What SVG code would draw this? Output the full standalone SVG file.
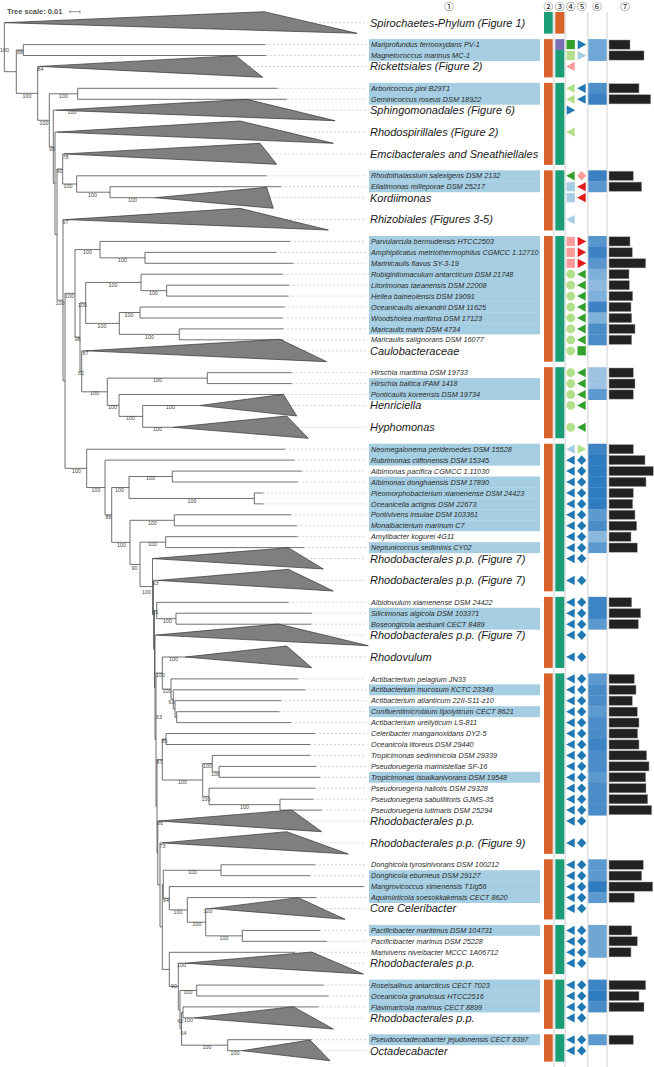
<svg xmlns="http://www.w3.org/2000/svg" width="654" height="1067" viewBox="0 0 654 1067">
<style>
.hl{fill:#a6cee3}
.lf{font-family:"Liberation Sans",Arial,sans-serif;font-style:italic;font-size:7.3px;fill:#2a2a2a}
.cl{font-family:"Liberation Sans",Arial,sans-serif;font-style:italic;font-size:11px;fill:#1a1a1a}
.bs{font-family:"Liberation Sans",Arial,sans-serif;font-size:5.3px;fill:#444;text-anchor:middle}
.br{fill:none;stroke:#4d4d4d;stroke-width:0.8}
.tri{fill:#7f7f7f;stroke:#333;stroke-width:0.7;stroke-linejoin:round}
.dot{fill:none;stroke:#c8c8c8;stroke-width:0.8;stroke-dasharray:2 2}
.bar{fill:#222;stroke:#999;stroke-width:0.5}
.or{fill:#d9622b}.gr{fill:#1b9e77}.pu{fill:#7b6fb8}
.vl{stroke:#d0d0d0;stroke-width:1}
.hd{font-family:"Noto Sans CJK JP","DejaVu Sans",sans-serif;font-size:9.5px;fill:#222;text-anchor:middle}
.ts{font-family:"Liberation Sans",Arial,sans-serif;font-size:7.5px;font-weight:bold;fill:#555}
</style>
<defs>
<path id="tR" d="M-4,-4.6L4.6,0L-4,4.6Z"/>
<path id="tL" d="M4,-4.6L-4.6,0L4,4.6Z"/>
<path id="sq" d="M-4.2,-4.6h8.4v9.2h-8.4z"/>
<circle id="ci" r="4.4"/>
<path id="di" d="M0,-4.8L4.6,0L0,4.8L-4.6,0Z"/>
<g id="bb"><use href="#tL" fill="#1f78b4"/><use href="#di" x="11" fill="#1f78b4"/></g>
<g id="gc"><use href="#ci" fill="#b2df8a"/><use href="#tL" x="11" fill="#33a02c"/></g>
<g id="pr"><use href="#sq" fill="#fb9a99"/><use href="#tR" x="11" fill="#e31a1c"/></g>
</defs>
<rect width="654" height="1067" fill="#fff"/>

<g id="header">
<text class="ts" x="7" y="14.2">Tree scale: 0.01</text>
<path d="M70 11.7H80M70 10.2V13.2M80 10.2V13.2" stroke="#777" stroke-width="0.8" fill="none"/>
<text class="hd" x="449" y="10.4">①</text>
<text class="hd" x="548.3" y="10.4">②</text>
<text class="hd" x="559.8" y="10.4">③</text>
<text class="hd" x="570.7" y="10.4">④</text>
<text class="hd" x="581.7" y="10.4">⑤</text>
<text class="hd" x="597" y="10.4">⑥</text>
<text class="hd" x="625" y="10.4">⑦</text>
</g>

<g id="grid">
<path class="vl" d="M553.9 12V1067M565.1 12V1067M587.9 12V1067M607 12V1067"/>
</g>

<g id="strips">
<rect class="gr" x="544" y="12" width="8.7" height="21.64"/><rect class="or" x="555.3" y="12" width="9" height="21.64"/>
<rect class="or" x="544" y="39.1" width="8.7" height="38.28"/><rect class="pu" x="555.3" y="39.1" width="9" height="10.94"/><rect class="gr" x="555.3" y="50.04" width="9" height="27.34"/>
<rect class="or" x="544" y="82.85" width="8.7" height="82.02"/><rect class="gr" x="555.3" y="82.85" width="9" height="82.02"/>
<rect class="or" x="544" y="170.33" width="8.7" height="60.15"/><rect class="gr" x="555.3" y="170.33" width="9" height="60.15"/>
<rect class="or" x="544" y="235.95" width="8.7" height="125.77"/><rect class="gr" x="555.3" y="235.95" width="9" height="125.77"/>
<rect class="or" x="544" y="367.18" width="8.7" height="71.09"/><rect class="gr" x="555.3" y="367.18" width="9" height="71.09"/>
<rect class="or" x="544" y="443.73" width="8.7" height="147.64"/><rect class="gr" x="555.3" y="443.73" width="9" height="147.64"/>
<rect class="or" x="544" y="596.84" width="8.7" height="71.08"/><rect class="gr" x="555.3" y="596.84" width="9" height="71.08"/>
<rect class="or" x="544" y="673.39" width="8.7" height="180.45"/><rect class="gr" x="555.3" y="673.39" width="9" height="180.45"/>
<rect class="or" x="544" y="859.3" width="8.7" height="60.15"/><rect class="gr" x="555.3" y="859.3" width="9" height="60.15"/>
<rect class="or" x="544" y="924.92" width="8.7" height="49.21"/><rect class="gr" x="555.3" y="924.92" width="9" height="49.21"/>
<rect class="or" x="544" y="979.6" width="8.7" height="49.21"/><rect class="gr" x="555.3" y="979.6" width="9" height="49.21"/>
<rect class="or" x="544" y="1034.28" width="8.7" height="27.34"/><rect class="gr" x="555.3" y="1034.28" width="9" height="27.34"/>
</g>

<g id="connectors">
<path class="dot" d="M311 22.7H366M265 44.57H366M265.7 55.51H366M249 66.44H366M277.7 88.32H366M286.7 99.25H366M291.7 110.19H366M286.4 132.06H366M268.4 153.93H366M266.7 175.8H366M281 186.74H366M270 197.68H366M285.9 219.55H366M290 241.42H366M276 252.36H366M293.3 263.29H366M282.7 274.23H366M289 285.16H366M288.3 296.1H366M284.3 307.04H366M282.7 317.97H366M283.3 328.91H366M283 339.84H366M304 350.78H366M291.7 372.65H366M291.7 383.59H366M283.3 394.52H366M290.2 405.46H366M297.6 427.33H366M285 449.2H366M294.3 460.14H366M301.7 471.08H366M297.7 482.01H366M263.3 492.95H366M263.3 503.88H366M291 514.82H366M296.7 525.76H366M297.7 536.69H366M304 547.63H366M306.2 558.56H366M311.3 580.44H366M288.3 602.31H366M311.7 613.24H366M311 624.18H366M324.4 635.12H366M299.4 656.99H366M297.7 678.86H366M305 689.8H366M281 700.73H366M279.3 711.67H366M291 722.6H366M315 733.54H366M310 744.48H366M310 755.41H366M316 766.35H366M320 777.28H366M315 788.22H366M313.3 799.16H366M321.7 810.09H366M306.9 821.03H366M317.6 842.9H366M315 864.77H366M310 875.71H366M363.3 886.64H366M316 897.58H366M321.7 908.52H366M320 930.39H366M326.7 941.32H366M295 952.26H366M338 963.2H366M323.3 985.07H366M328.3 996H366M318.3 1006.94H366M313.4 1017.88H366M312 1039.75H366M320.7 1050.68H366"/>
<path class="br" d="M4.3 22.7V71.7M16.3 50.05V93.35M23.3 44.6V55.5M37.7 66.4V120.3M49.3 93.8V146.8M77.7 88.3V99.3M53.3 110.2V183.35M55 132.1V234.6M57 169V300.2M62.7 153.9V184M76.7 175.8V192.2M110 186.7V197.7M63 219.6V380.85M65 293.35V468.35M75 249.6V337.1M100 241.4V257.85M145 252.4V263.3M80 302.9V371.3M85.7 282.4V323.4M141 274.2V290.65M166.7 285.2V296.1M119.3 312.5V334.35M140 307V318M179.3 328.9V339.8M81.7 350.8V391.8M107.3 378.15V405.45M207.3 372.7V383.6M119 394.5V416.4M142.7 405.5V427.3M86.7 449.2V487.5M105 460.1V514.9M111.7 487.5V542.35M129 476.55V498.45M172.3 471.1V482M254.3 493V503.9M130 520.3V564.4M174.3 514.8V525.8M140 542.15V586.6M165.7 536.7V547.6M152.5 558.6V614.65M153.5 580.4V648.9M154.5 610.5V687.35M156.7 602.3V618.7M176 613.2V624.2M155 635.1V739.6M156 673.05V806.2M162.3 657V689.1M171 678.9V699.35M173.3 689.8V708.9M175 700.7V717.15M176.7 711.7V722.6M157 759.5V852.9M162.3 739V780M166 733.5V744.5M202.7 763.6V796.4M212.3 755.4V771.85M219 766.4V777.3M209 788.2V804.65M280 799.2V810.1M157.8 821V884.85M160 842.9V926.8M163.3 870.25V898.25M221 864.8V875.7M169.3 886.6V909.9M187.3 897.6V922.2M205.7 908.5V935.85M242.3 930.4V941.3M162.3 884.25V969.4M169.3 952.3V986.45M178.3 963.2V1009.7M180 990.55V1028.8M196.7 985.1V996M181.5 1012.4V1045.2M183 1006.9V1017.9M227.7 1039.7V1050.7"/>
<path class="br" d="M4.3 71.7H16.3M16.3 50.05H23.3M23.3 44.6H265M23.3 55.5H265.7M16.3 93.35H37.7M37.7 66.4H40M37.7 120.3H49.3M49.3 93.8H77.7M77.7 88.3H277.7M77.7 99.3H286.7M49.3 146.8H53.3M53.3 110.2H56M53.3 183.35H55M55 132.1H57M55 234.6H57M57 169H62.7M62.7 153.9H64M62.7 184H76.7M76.7 175.8H266.7M76.7 192.2H110M110 186.7H281M110 197.7H155M57 300.2H63M63 219.6H66M63 380.85H65M65 293.35H75M65 468.35H86.7M75 249.6H100M100 241.4H290M100 257.85H145M145 252.4H276M145 263.3H293.3M75 337.1H80M80 302.9H85.7M85.7 282.4H141M141 274.2H282.7M141 290.65H166.7M166.7 285.2H289M166.7 296.1H288.3M85.7 323.4H119.3M119.3 312.5H140M140 307H284.3M140 318H282.7M119.3 334.35H179.3M179.3 328.9H283.3M179.3 339.8H283M80 371.3H81.7M81.7 350.8H86M81.7 391.8H107.3M107.3 378.15H207.3M207.3 372.7H291.7M207.3 383.6H291.7M107.3 405.45H119M119 394.5H283.3M119 416.4H142.7M142.7 405.5H200M142.7 427.3H173"/>
<path class="br" d="M86.7 449.2H285M86.7 487.5H105M105 460.1H294.3M105 514.9H111.7M111.7 487.5H129M129 476.55H172.3M172.3 471.1H301.7M172.3 482H297.7M129 498.45H254.3M254.3 493H263.3M254.3 503.9H263.3M111.7 542.35H130M130 520.3H174.3M174.3 514.8H291M174.3 525.8H296.7M130 564.4H140M140 542.15H165.7M165.7 536.7H297.7M165.7 547.6H304M140 586.6H152.5M152.5 614.65H153.5M153.5 580.4H158M153.5 648.9H154.5M154.5 610.5H156.7M156.7 602.3H288.3M156.7 618.7H176M176 613.2H311.7M176 624.2H311M154.5 687.35H155M155 635.1H156M155 739.6H156M156 673.05H162.3M162.3 657H185M162.3 689.1H171M171 678.9H297.7M171 699.35H173.3M173.3 689.8H305M173.3 708.9H175M175 700.7H281M175 717.15H176.7M176.7 711.7H279.3M176.7 722.6H291M156 806.2H157M157 759.5H162.3M162.3 739H166M166 733.5H315M166 744.5H310M162.3 780H202.7M202.7 763.6H212.3M212.3 755.4H310M212.3 771.85H219M219 766.4H316M219 777.3H320M202.7 796.4H209M209 788.2H315M209 804.65H280M280 799.2H313.3M280 810.1H321.7"/>
<path class="br" d="M157 852.9H157.8M157.8 821H159M157.8 884.85H160M160 842.9H162M160 926.8H162.3M162.3 884.25H163.3M163.3 870.25H221M221 864.8H315M221 875.7H310M163.3 898.25H169.3M169.3 886.6H363.3M169.3 909.9H187.3M187.3 897.6H316M187.3 922.2H205.7M205.7 908.5H211M205.7 935.85H242.3M242.3 930.4H320M242.3 941.3H326.7M162.3 969.4H169.3M169.3 952.3H295M169.3 986.45H178.3M178.3 963.2H185M178.3 1009.7H180M180 990.55H196.7M196.7 985.1H323.3M196.7 996H328.3M180 1028.8H181.5M181.5 1012.4H183M183 1006.9H318.3M183 1017.9H194M181.5 1045.2H227.7M227.7 1039.7H312M227.7 1050.7H242"/>
</g>

<g id="clades">
<path class="tri" d="M4.5 22.7L264 11.7L357 33.3Z"/>
<path class="tri" d="M40 66.4L235.7 55.7L262.7 77.3Z"/>
<path class="tri" d="M56 110.2L246.7 99.3L335 120.7Z"/>
<path class="tri" d="M57 132.1L240 121L333.3 143.3Z"/>
<path class="tri" d="M64 153.9L260 143.3L276.7 164.3Z"/>
<path class="tri" d="M155 197.7L266.7 187.3L273.3 208.3Z"/>
<path class="tri" d="M66 219.6L240 208.3L328.3 230Z"/>
<path class="tri" d="M86 350.8L280 339.3L326.7 361.7Z"/>
<path class="tri" d="M200 405.5L283.3 394.3L296.7 416Z"/>
<path class="tri" d="M173 427.3L286.7 416L308.3 438.3Z"/>
<path class="tri" d="M152.5 558.6L288.3 547.7L323.3 569Z"/>
<path class="tri" d="M158 580.4L288.3 569.3L333.3 591Z"/>
<path class="tri" d="M156 635.1L278.3 624L368.3 645.7Z"/>
<path class="tri" d="M185 657L286.7 646L311.7 667.7Z"/>
<path class="tri" d="M159 821L291.7 810L321.7 831.7Z"/>
<path class="tri" d="M162 842.9L286.7 831.7L348.3 854Z"/>
<path class="tri" d="M211 908.5L298.3 897.7L345 919.3Z"/>
<path class="tri" d="M185 963.2L311.7 952L363.3 974Z"/>
<path class="tri" d="M194 1017.9L293.3 1006.7L333.3 1029Z"/>
<path class="tri" d="M242 1050.7L310 1040L330 1060.7Z"/>
</g>

<g id="support">
<text class="bs" x="4.5" y="52">100</text><text class="bs" x="20" y="54.3">88</text><text class="bs" x="40.5" y="71">84</text><text class="bs" x="27" y="97.7">100</text><text class="bs" x="44" y="124.7">100</text><text class="bs" x="63.5" y="98">100</text><text class="bs" x="72" y="114">100</text><text class="bs" x="52" y="151">95</text><text class="bs" x="65.5" y="158.7">78</text><text class="bs" x="59.5" y="172.7">90</text>
<text class="bs" x="68" y="188">100</text><text class="bs" x="92.5" y="197">100</text><text class="bs" x="132.5" y="202">100</text><text class="bs" x="65.5" y="223.7">97</text><text class="bs" x="87.5" y="254">100</text><text class="bs" x="122.5" y="262">100</text><text class="bs" x="69.5" y="297.7">100</text><text class="bs" x="60" y="304.7">100</text><text class="bs" x="113" y="287">100</text><text class="bs" x="153.5" y="295">100</text>
<text class="bs" x="82.5" y="307">100</text><text class="bs" x="129" y="317">100</text><text class="bs" x="102" y="327.7">100</text><text class="bs" x="149.5" y="338.7">100</text><text class="bs" x="77.5" y="341">98</text><text class="bs" x="85.5" y="354.7">87</text><text class="bs" x="81" y="375.3">62</text><text class="bs" x="157.5" y="382">100</text><text class="bs" x="94.5" y="395">100</text><text class="bs" x="112.5" y="409">100</text>
<text class="bs" x="170.5" y="409">100</text><text class="bs" x="130.5" y="420">100</text><text class="bs" x="157.5" y="431">100</text><text class="bs" x="76.5" y="472.7">100</text><text class="bs" x="96" y="492">100</text><text class="bs" x="150.5" y="480">100</text><text class="bs" x="119.5" y="492">100</text><text class="bs" x="192" y="502.7">100</text><text class="bs" x="108.5" y="518.7">86</text><text class="bs" x="152.5" y="524.7">100</text>
<text class="bs" x="121.5" y="547">100</text><text class="bs" x="152.5" y="546">100</text><text class="bs" x="134.5" y="569.7">90</text><text class="bs" x="146.5" y="593.7">100</text><text class="bs" x="155.5" y="584.7">63</text><text class="bs" x="155.5" y="614.3">61</text><text class="bs" x="167.5" y="623">100</text><text class="bs" x="173.5" y="661.3">100</text><text class="bs" x="160.5" y="677">100</text><text class="bs" x="167" y="692.7">100</text>
<text class="bs" x="171.5" y="703.7">63</text><text class="bs" x="159" y="719.3">63</text><text class="bs" x="164.5" y="742.7">85</text><text class="bs" x="159.5" y="763.7">87</text><text class="bs" x="182.5" y="783.7">100</text><text class="bs" x="207.5" y="767.7">100</text><text class="bs" x="215.5" y="776">100</text><text class="bs" x="206" y="801">100</text><text class="bs" x="244.5" y="808.7">100</text><text class="bs" x="160" y="825.3">86</text>
<text class="bs" x="162.5" y="847.7">73</text><text class="bs" x="192.5" y="874.3">100</text><text class="bs" x="166" y="902">64</text><text class="bs" x="178" y="913.7">100</text><text class="bs" x="197" y="926.3">100</text><text class="bs" x="208" y="912.7">100</text><text class="bs" x="224" y="939.7">100</text><text class="bs" x="181.5" y="967">100</text><text class="bs" x="174" y="987.7">90</text><text class="bs" x="188" y="994.3">100</text>
<text class="bs" x="180.5" y="1022.7">62</text><text class="bs" x="188.5" y="1022">100</text><text class="bs" x="183.5" y="1035.3">64</text><text class="bs" x="207" y="1048.7">100</text><text class="bs" x="235" y="1054.7">100</text>
</g>

<g id="rows">
<g id="r00"><text class="cl" x="370" y="26.6">Spirochaetes-Phylum (Figure 1)</text></g>
<g id="r02"><rect class="hl" x="369" y="39.1" width="171" height="11.2"/><text class="lf" x="371" y="47.2">Mariprofundus ferrooxydans PV-1</text><use href="#sq" x="570.7" y="44.57" fill="#33a02c"/><use href="#tR" x="581.7" y="44.57" fill="#1f78b4"/><rect x="588.3" y="39.1" width="18.4" height="11.2" fill="#6fa8d6"/><rect class="bar" x="609" y="40" width="21" height="9.2"/></g>
<g id="r03"><rect class="hl" x="369" y="50.04" width="171" height="10.94"/><text class="lf" x="371" y="58.1">Magnetococcus marinus MC-1</text><use href="#sq" x="570.7" y="55.51" fill="#b2df8a"/><use href="#tR" x="581.7" y="55.51" fill="#a6cee3"/><rect x="588.3" y="50.04" width="18.4" height="10.94" fill="#6fa8d6"/><rect class="bar" x="609" y="50.9" width="35" height="9.2"/></g>
<g id="r04"><text class="cl" x="370" y="70.3">Rickettsiales (Figure 2)</text><use href="#tL" x="570.7" y="66.44" fill="#fb9a99"/></g>
<g id="r06"><rect class="hl" x="369" y="82.85" width="171" height="11.2"/><text class="lf" x="371" y="90.9">Arboricoccus pini B29T1</text><use href="#tL" x="570.7" y="88.32" fill="#b2df8a"/><use href="#tL" x="581.7" y="88.32" fill="#1f78b4"/><rect x="588.3" y="82.85" width="18.4" height="11.2" fill="#4d8fca"/><rect class="bar" x="609" y="83.7" width="30" height="9.2"/></g>
<g id="r07"><rect class="hl" x="369" y="93.78" width="171" height="10.94"/><text class="lf" x="371" y="101.9">Geminicoccus roseus DSM 18922</text><use href="#tL" x="570.7" y="99.25" fill="#b2df8a"/><use href="#tL" x="581.7" y="99.25" fill="#1f78b4"/><rect x="588.3" y="93.78" width="18.4" height="10.94" fill="#3a80c2"/><rect class="bar" x="609" y="94.7" width="41.7" height="9.2"/></g>
<g id="r08"><text class="cl" x="370" y="114.1">Sphingomonadales (Figure 6)</text><use href="#tR" x="570.7" y="110.19" fill="#1f78b4"/></g>
<g id="r10"><text class="cl" x="370" y="136">Rhodospirillales (Figure 2)</text><use href="#tL" x="570.7" y="132.06" fill="#b2df8a"/></g>
<g id="r12"><text class="cl" x="370" y="157.8">Emcibacterales and Sneathiellales</text></g>
<g id="r14"><rect class="hl" x="369" y="170.33" width="171" height="11.2"/><text class="lf" x="371" y="178.4">Rhodothalassium salexigens DSM 2132</text><use href="#tL" x="570.7" y="175.8" fill="#33a02c"/><use href="#di" x="581.7" y="175.8" fill="#fb9a99"/><rect x="588.3" y="170.33" width="18.4" height="11.2" fill="#3a80c2"/><rect class="bar" x="609" y="171.2" width="24.3" height="9.2"/></g>
<g id="r15"><rect class="hl" x="369" y="181.27" width="171" height="10.94"/><text class="lf" x="371" y="189.3">Eilatimonas milleporae DSM 25217</text><use href="#sq" x="570.7" y="186.74" fill="#a6cee3"/><use href="#tL" x="581.7" y="186.74" fill="#e31a1c"/><rect x="588.3" y="181.27" width="18.4" height="10.94" fill="#5a98cf"/><rect class="bar" x="609" y="182.1" width="32.7" height="9.2"/></g>
<g id="r16"><text class="cl" x="370" y="201.6">Kordiimonas</text><use href="#sq" x="570.7" y="197.68" fill="#a6cee3"/><use href="#tL" x="581.7" y="197.68" fill="#e31a1c"/></g>
<g id="r18"><text class="cl" x="370" y="223.4">Rhizobiales (Figures 3-5)</text><use href="#tL" x="570.7" y="219.55" fill="#a6cee3"/></g>
<g id="r20"><rect class="hl" x="369" y="235.95" width="171" height="11.2"/><text class="lf" x="371" y="244">Parvularcula bermudensis HTCC2503</text><use href="#pr" x="570.7" y="241.42"/><rect x="588.3" y="235.95" width="18.4" height="11.2" fill="#5896cd"/><rect class="bar" x="609" y="236.8" width="21" height="9.2"/></g>
<g id="r21"><rect class="hl" x="369" y="246.89" width="171" height="11.2"/><text class="lf" x="371" y="255">Amphiplicatus metriothermophilus CGMCC 1.12710</text><use href="#pr" x="570.7" y="252.36"/><rect x="588.3" y="246.89" width="18.4" height="11.2" fill="#3c82c4"/><rect class="bar" x="609" y="247.8" width="23.3" height="9.2"/></g>
<g id="r22"><rect class="hl" x="369" y="257.82" width="171" height="11.2"/><text class="lf" x="371" y="265.9">Marinicaulis flavus SY-3-19</text><use href="#pr" x="570.7" y="263.29"/><rect x="588.3" y="257.82" width="18.4" height="11.2" fill="#5896cd"/><rect class="bar" x="609" y="258.7" width="36.7" height="9.2"/></g>
<g id="r23"><rect class="hl" x="369" y="268.76" width="171" height="11.2"/><text class="lf" x="371" y="276.8">Robiginitomaculum antarcticum DSM 21748</text><use href="#gc" x="570.7" y="274.23"/><rect x="588.3" y="268.76" width="18.4" height="11.2" fill="#7fb0da"/><rect class="bar" x="609" y="269.6" width="20" height="9.2"/></g>
<g id="r24"><rect class="hl" x="369" y="279.69" width="171" height="11.2"/><text class="lf" x="371" y="287.8">Litorimonas taeanensis DSM 22008</text><use href="#gc" x="570.7" y="285.16"/><rect x="588.3" y="279.69" width="18.4" height="11.2" fill="#8fbade"/><rect class="bar" x="609" y="280.6" width="20.3" height="9.2"/></g>
<g id="r25"><rect class="hl" x="369" y="290.63" width="171" height="11.2"/><text class="lf" x="371" y="298.7">Hellea balneolensis DSM 19091</text><use href="#gc" x="570.7" y="296.1"/><rect x="588.3" y="290.63" width="18.4" height="11.2" fill="#7fb0da"/><rect class="bar" x="609" y="291.5" width="23.7" height="9.2"/></g>
<g id="r26"><rect class="hl" x="369" y="301.57" width="171" height="11.2"/><text class="lf" x="371" y="309.6">Oceanicaulis alexandrii DSM 11625</text><use href="#gc" x="570.7" y="307.04"/><rect x="588.3" y="301.57" width="18.4" height="11.2" fill="#3c82c4"/><rect class="bar" x="609" y="302.4" width="22" height="9.2"/></g>
<g id="r27"><rect class="hl" x="369" y="312.5" width="171" height="11.2"/><text class="lf" x="371" y="320.6">Woodsholea maritima DSM 17123</text><use href="#gc" x="570.7" y="317.97"/><rect x="588.3" y="312.5" width="18.4" height="11.2" fill="#7fb0da"/><rect class="bar" x="609" y="313.4" width="22.7" height="9.2"/></g>
<g id="r28"><rect class="hl" x="369" y="323.44" width="171" height="10.94"/><text class="lf" x="371" y="331.5">Maricaulis maris DSM 4734</text><use href="#gc" x="570.7" y="328.91"/><rect x="588.3" y="323.44" width="18.4" height="11.2" fill="#4a8cc8"/><rect class="bar" x="609" y="324.3" width="26" height="9.2"/></g>
<g id="r29"><text class="lf" x="371" y="342.4">Maricaulis salignorans DSM 16077</text><use href="#gc" x="570.7" y="339.84"/><rect x="588.3" y="334.37" width="18.4" height="10.94" fill="#4a8cc8"/><rect class="bar" x="609" y="335.2" width="22.7" height="9.2"/></g>
<g id="r30"><text class="cl" x="370" y="354.7">Caulobacteraceae</text><use href="#ci" x="570.7" y="350.78" fill="#b2df8a"/><use href="#sq" x="581.7" y="350.78" fill="#33a02c"/></g>
<g id="r32"><text class="lf" x="371" y="375.3">Hirschia maritima DSM 19733</text><use href="#gc" x="570.7" y="372.65"/><rect x="588.3" y="367.18" width="18.4" height="11.2" fill="#9ec3e2"/><rect class="bar" x="609" y="368" width="24.3" height="9.2"/></g>
<g id="r33"><rect class="hl" x="369" y="378.12" width="171" height="11.2"/><text class="lf" x="371" y="386.2">Hirschia baltica IFAM 1418</text><use href="#gc" x="570.7" y="383.59"/><rect x="588.3" y="378.12" width="18.4" height="11.2" fill="#9ec3e2"/><rect class="bar" x="609" y="379" width="26" height="9.2"/></g>
<g id="r34"><rect class="hl" x="369" y="389.05" width="171" height="10.94"/><text class="lf" x="371" y="397.1">Ponticaulis koreensis DSM 19734</text><use href="#gc" x="570.7" y="394.52"/><rect x="588.3" y="389.05" width="18.4" height="10.94" fill="#5b99cf"/><rect class="bar" x="609" y="389.9" width="24.3" height="9.2"/></g>
<g id="r35"><text class="cl" x="370" y="409.4">Henriciella</text><use href="#gc" x="570.7" y="405.46"/></g>
<g id="r37"><text class="cl" x="370" y="431.2">Hyphomonas</text><use href="#gc" x="570.7" y="427.33"/></g>
<g id="r39"><rect class="hl" x="369" y="443.73" width="171" height="11.2"/><text class="lf" x="371" y="451.8">Neomegalonema perideroedes DSM 15528</text><use href="#tL" x="570.7" y="449.2" fill="#a6cee3"/><use href="#tR" x="581.7" y="449.2" fill="#b2df8a"/><rect x="588.3" y="443.73" width="18.4" height="11.2" fill="#3d84c5"/><rect class="bar" x="609" y="444.6" width="24.3" height="9.2"/></g>
<g id="r40"><rect class="hl" x="369" y="454.67" width="171" height="10.94"/><text class="lf" x="371" y="462.7">Rubrimonas cliftonensis DSM 15345</text><use href="#bb" x="570.7" y="460.14"/><rect x="588.3" y="454.67" width="18.4" height="11.2" fill="#2f7bc0"/><rect class="bar" x="609" y="455.5" width="36" height="9.2"/></g>
<g id="r41"><text class="lf" x="371" y="473.7">Albimonas pacifica CGMCC 1.11030</text><use href="#bb" x="570.7" y="471.08"/><rect x="588.3" y="465.61" width="18.4" height="11.2" fill="#2f7bc0"/><rect class="bar" x="609" y="466.5" width="44.3" height="9.2"/></g>
<g id="r42"><rect class="hl" x="369" y="476.54" width="171" height="11.2"/><text class="lf" x="371" y="484.6">Albimonas donghaensis DSM 17890</text><use href="#bb" x="570.7" y="482.01"/><rect x="588.3" y="476.54" width="18.4" height="11.2" fill="#2f7bc0"/><rect class="bar" x="609" y="477.4" width="37" height="9.2"/></g>
<g id="r43"><rect class="hl" x="369" y="487.48" width="171" height="11.2"/><text class="lf" x="371" y="495.5">Pleomorphobacterium xiamenense DSM 24423</text><use href="#bb" x="570.7" y="492.95"/><rect x="588.3" y="487.48" width="18.4" height="11.2" fill="#2f7bc0"/><rect class="bar" x="609" y="488.4" width="24.3" height="9.2"/></g>
<g id="r44"><rect class="hl" x="369" y="498.41" width="171" height="11.2"/><text class="lf" x="371" y="506.5">Oceanicella actignis DSM 22673</text><use href="#bb" x="570.7" y="503.88"/><rect x="588.3" y="498.41" width="18.4" height="11.2" fill="#2f7bc0"/><rect class="bar" x="609" y="499.3" width="23.7" height="9.2"/></g>
<g id="r45"><rect class="hl" x="369" y="509.35" width="171" height="11.2"/><text class="lf" x="371" y="517.4">Pontivivens insulae DSM 103361</text><use href="#bb" x="570.7" y="514.82"/><rect x="588.3" y="509.35" width="18.4" height="11.2" fill="#5b99cf"/><rect class="bar" x="609" y="510.2" width="26" height="9.2"/></g>
<g id="r46"><rect class="hl" x="369" y="520.29" width="171" height="10.94"/><text class="lf" x="371" y="528.4">Monaibacterium marinum C7</text><use href="#bb" x="570.7" y="525.76"/><rect x="588.3" y="520.29" width="18.4" height="11.2" fill="#4a8cc8"/><rect class="bar" x="609" y="521.2" width="27.7" height="9.2"/></g>
<g id="r47"><text class="lf" x="371" y="539.3">Amylibacter kogurei 4G11</text><use href="#bb" x="570.7" y="536.69"/><rect x="588.3" y="531.22" width="18.4" height="11.2" fill="#8ab7dc"/><rect class="bar" x="609" y="532.1" width="22" height="9.2"/></g>
<g id="r48"><rect class="hl" x="369" y="542.16" width="171" height="10.94"/><text class="lf" x="371" y="550.2">Neptunicoccus sediminis CY02</text><use href="#bb" x="570.7" y="547.63"/><rect x="588.3" y="542.16" width="18.4" height="10.94" fill="#5b99cf"/><rect class="bar" x="609" y="543" width="28.3" height="9.2"/></g>
<g id="r49"><text class="cl" x="370" y="562.5">Rhodobacterales p.p. (Figure 7)</text><use href="#bb" x="570.7" y="558.56"/></g>
<g id="r51"><text class="cl" x="370" y="584.3">Rhodobacterales p.p. (Figure 7)</text><use href="#bb" x="570.7" y="580.44"/></g>
<g id="r53"><text class="lf" x="371" y="604.9">Albidovulum xiamenense DSM 24422</text><use href="#bb" x="570.7" y="602.31"/><rect x="588.3" y="596.84" width="18.4" height="11.2" fill="#3d84c5"/><rect class="bar" x="609" y="597.7" width="22.7" height="9.2"/></g>
<g id="r54"><rect class="hl" x="369" y="607.77" width="171" height="11.2"/><text class="lf" x="371" y="615.8">Silicimonas algicola DSM 103371</text><use href="#bb" x="570.7" y="613.24"/><rect x="588.3" y="607.77" width="18.4" height="11.2" fill="#3d84c5"/><rect class="bar" x="609" y="608.6" width="31.7" height="9.2"/></g>
<g id="r55"><rect class="hl" x="369" y="618.71" width="171" height="10.94"/><text class="lf" x="371" y="626.8">Boseongicola aestuarii CECT 8489</text><use href="#bb" x="570.7" y="624.18"/><rect x="588.3" y="618.71" width="18.4" height="10.94" fill="#5b99cf"/><rect class="bar" x="609" y="619.6" width="29.3" height="9.2"/></g>
<g id="r56"><text class="cl" x="370" y="639">Rhodobacterales p.p. (Figure 7)</text><use href="#bb" x="570.7" y="635.12"/></g>
<g id="r58"><text class="cl" x="370" y="660.9">Rhodovulum</text><use href="#bb" x="570.7" y="656.99"/></g>
<g id="r60"><text class="lf" x="371" y="681.5">Actibacterium pelagium JN33</text><use href="#bb" x="570.7" y="678.86"/><rect x="588.3" y="673.39" width="18.4" height="11.2" fill="#5b99cf"/><rect class="bar" x="609" y="674.3" width="25.3" height="9.2"/></g>
<g id="r61"><rect class="hl" x="369" y="684.33" width="171" height="10.94"/><text class="lf" x="371" y="692.4">Actibacterium mucosum KCTC 23349</text><use href="#bb" x="570.7" y="689.8"/><rect x="588.3" y="684.33" width="18.4" height="11.2" fill="#4a8cc8"/><rect class="bar" x="609" y="685.2" width="27" height="9.2"/></g>
<g id="r62"><text class="lf" x="371" y="703.3">Actibacterium atlanticum 22II-S11-z10</text><use href="#bb" x="570.7" y="700.73"/><rect x="588.3" y="695.26" width="18.4" height="11.2" fill="#4a8cc8"/><rect class="bar" x="609" y="696.1" width="23.3" height="9.2"/></g>
<g id="r63"><rect class="hl" x="369" y="706.2" width="171" height="10.94"/><text class="lf" x="371" y="714.3">Confluentimicrobium lipolyticum CECT 8621</text><use href="#bb" x="570.7" y="711.67"/><rect x="588.3" y="706.2" width="18.4" height="11.2" fill="#5b99cf"/><rect class="bar" x="609" y="707.1" width="28.3" height="9.2"/></g>
<g id="r64"><text class="lf" x="371" y="725.2">Actibacterium ureilyticum LS-811</text><use href="#bb" x="570.7" y="722.6"/><rect x="588.3" y="717.13" width="18.4" height="11.2" fill="#4a8cc8"/><rect class="bar" x="609" y="718" width="30" height="9.2"/></g>
<g id="r65"><text class="lf" x="371" y="736.1">Celeribacter manganoxidans DY2-5</text><use href="#bb" x="570.7" y="733.54"/><rect x="588.3" y="728.07" width="18.4" height="11.2" fill="#4a8cc8"/><rect class="bar" x="609" y="728.9" width="28.7" height="9.2"/></g>
<g id="r66"><text class="lf" x="371" y="747.1">Oceanicola litoreus DSM 29440</text><use href="#bb" x="570.7" y="744.48"/><rect x="588.3" y="739.01" width="18.4" height="11.2" fill="#3d84c5"/><rect class="bar" x="609" y="739.9" width="30" height="9.2"/></g>
<g id="r67"><text class="lf" x="371" y="758">Tropicimonas sediminicola DSM 29339</text><use href="#bb" x="570.7" y="755.41"/><rect x="588.3" y="749.94" width="18.4" height="11.2" fill="#4a8cc8"/><rect class="bar" x="609" y="750.8" width="37.7" height="9.2"/></g>
<g id="r68"><text class="lf" x="371" y="768.9">Pseudoruegeria marinistellae SF-16</text><use href="#bb" x="570.7" y="766.35"/><rect x="588.3" y="760.88" width="18.4" height="11.2" fill="#4a8cc8"/><rect class="bar" x="609" y="761.8" width="40" height="9.2"/></g>
<g id="r69"><rect class="hl" x="369" y="771.81" width="171" height="10.94"/><text class="lf" x="371" y="779.9">Tropicimonas isoalkanivorans DSM 19548</text><use href="#bb" x="570.7" y="777.28"/><rect x="588.3" y="771.81" width="18.4" height="11.2" fill="#5b99cf"/><rect class="bar" x="609" y="772.7" width="36.7" height="9.2"/></g>
<g id="r70"><text class="lf" x="371" y="790.8">Pseudoruegeria haliotis DSM 29328</text><use href="#bb" x="570.7" y="788.22"/><rect x="588.3" y="782.75" width="18.4" height="11.2" fill="#4a8cc8"/><rect class="bar" x="609" y="783.6" width="37" height="9.2"/></g>
<g id="r71"><text class="lf" x="371" y="801.8">Pseudoruegeria sabulilitoris GJMS-35</text><use href="#bb" x="570.7" y="799.16"/><rect x="588.3" y="793.69" width="18.4" height="11.2" fill="#4a8cc8"/><rect class="bar" x="609" y="794.6" width="38.7" height="9.2"/></g>
<g id="r72"><text class="lf" x="371" y="812.7">Pseudoruegeria lutimaris DSM 25294</text><use href="#bb" x="570.7" y="810.09"/><rect x="588.3" y="804.62" width="18.4" height="10.94" fill="#4a8cc8"/><rect class="bar" x="609" y="805.5" width="42.7" height="9.2"/></g>
<g id="r73"><text class="cl" x="370" y="824.9">Rhodobacterales p.p.</text><use href="#bb" x="570.7" y="821.03"/></g>
<g id="r75"><text class="cl" x="370" y="846.8">Rhodobacterales p.p. (Figure 9)</text><use href="#bb" x="570.7" y="842.9"/></g>
<g id="r77"><text class="lf" x="371" y="867.4">Donghicola tyrosinivorans DSM 100212</text><use href="#bb" x="570.7" y="864.77"/><rect x="588.3" y="859.3" width="18.4" height="11.2" fill="#5b99cf"/><rect class="bar" x="609" y="860.2" width="34.3" height="9.2"/></g>
<g id="r78"><rect class="hl" x="369" y="870.24" width="171" height="11.2"/><text class="lf" x="371" y="878.3">Donghicola eburneus DSM 29127</text><use href="#bb" x="570.7" y="875.71"/><rect x="588.3" y="870.24" width="18.4" height="11.2" fill="#5b99cf"/><rect class="bar" x="609" y="871.1" width="32.7" height="9.2"/></g>
<g id="r79"><rect class="hl" x="369" y="881.17" width="171" height="11.2"/><text class="lf" x="371" y="889.2">Mangrovicoccus ximenensis T1lg56</text><use href="#bb" x="570.7" y="886.64"/><rect x="588.3" y="881.17" width="18.4" height="11.2" fill="#2f7bc0"/><rect class="bar" x="609" y="882" width="43.7" height="9.2"/></g>
<g id="r80"><rect class="hl" x="369" y="892.11" width="171" height="10.94"/><text class="lf" x="371" y="900.2">Aquimixticola soesokkakensis CECT 8620</text><use href="#bb" x="570.7" y="897.58"/><rect x="588.3" y="892.11" width="18.4" height="10.94" fill="#5b99cf"/><rect class="bar" x="609" y="893" width="25.3" height="9.2"/></g>
<g id="r81"><text class="cl" x="370" y="912.4">Core Celeribacter</text><use href="#bb" x="570.7" y="908.52"/></g>
<g id="r83"><rect class="hl" x="369" y="924.92" width="171" height="10.94"/><text class="lf" x="371" y="933">Pacificibacter maritimus DSM 104731</text><use href="#bb" x="570.7" y="930.39"/><rect x="588.3" y="924.92" width="18.4" height="11.2" fill="#6ea6d4"/><rect class="bar" x="609" y="925.8" width="22.7" height="9.2"/></g>
<g id="r84"><text class="lf" x="371" y="943.9">Pacificibacter marinus DSM 25228</text><use href="#bb" x="570.7" y="941.32"/><rect x="588.3" y="935.85" width="18.4" height="11.2" fill="#6ea6d4"/><rect class="bar" x="609" y="936.7" width="28.3" height="9.2"/></g>
<g id="r85"><text class="lf" x="371" y="954.9">Marivivens niveibacter MCCC 1A06712</text><use href="#bb" x="570.7" y="952.26"/><rect x="588.3" y="946.79" width="18.4" height="10.94" fill="#6ea6d4"/><rect class="bar" x="609" y="947.7" width="22" height="9.2"/></g>
<g id="r86"><text class="cl" x="370" y="967.1">Rhodobacterales p.p.</text><use href="#bb" x="570.7" y="963.2"/></g>
<g id="r88"><rect class="hl" x="369" y="979.6" width="171" height="11.2"/><text class="lf" x="371" y="987.7">Roseisalinus antarcticus CECT 7023</text><use href="#bb" x="570.7" y="985.07"/><rect x="588.3" y="979.6" width="18.4" height="11.2" fill="#3d84c5"/><rect class="bar" x="609" y="980.5" width="36.7" height="9.2"/></g>
<g id="r89"><rect class="hl" x="369" y="990.53" width="171" height="11.2"/><text class="lf" x="371" y="998.6">Oceanicola granulosus HTCC2516</text><use href="#bb" x="570.7" y="996"/><rect x="588.3" y="990.53" width="18.4" height="11.2" fill="#2f7bc0"/><rect class="bar" x="609" y="991.4" width="30" height="9.2"/></g>
<g id="r90"><rect class="hl" x="369" y="1001.47" width="171" height="10.94"/><text class="lf" x="371" y="1009.5">Flavimaricola marinus CECT 8899</text><use href="#bb" x="570.7" y="1006.94"/><rect x="588.3" y="1001.47" width="18.4" height="10.94" fill="#4a8cc8"/><rect class="bar" x="609" y="1002.3" width="35" height="9.2"/></g>
<g id="r91"><text class="cl" x="370" y="1021.8">Rhodobacterales p.p.</text><use href="#bb" x="570.7" y="1017.88"/></g>
<g id="r93"><rect class="hl" x="369" y="1034.28" width="171" height="10.94"/><text class="lf" x="371" y="1042.4">Pseudooctadecabacter jejudonensis CECT 8397</text><use href="#bb" x="570.7" y="1039.75"/><rect x="588.3" y="1034.28" width="18.4" height="10.94" fill="#5b99cf"/><rect class="bar" x="609" y="1035.2" width="24.3" height="9.2"/></g>
<g id="r94"><text class="cl" x="370" y="1054.6">Octadecabacter</text><use href="#bb" x="570.7" y="1050.68"/></g>
</g>
</svg>
